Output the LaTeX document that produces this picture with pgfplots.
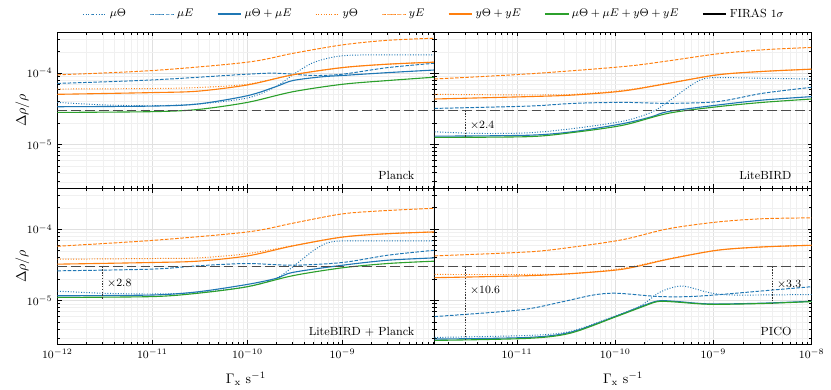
\documentclass[border=0pt]{standalone}
\usepackage{pgfplots}
\pgfplotsset{compat=1.18}
\usepgfplotslibrary{groupplots}
\usetikzlibrary{calc}

\definecolor{tabblue}{HTML}{1F77B4}
\definecolor{taborange}{HTML}{FF7F0E}
\definecolor{tabgreen}{HTML}{2CA02C}

\newcommand{\tfont}{\fontsize{8.5}{10}\selectfont}

\pgfplotsset{
  muT/.style={tabblue, line width=0.7pt, dash pattern=on 0.7pt off 1.2pt, smooth},
  muE/.style={tabblue, line width=0.7pt, dash pattern=on 2.6pt off 1.1pt, smooth},
  muS/.style={tabblue, line width=0.8pt, smooth},
  yT/.style={taborange, line width=0.7pt, dash pattern=on 0.7pt off 1.2pt, smooth},
  yEd/.style={taborange, line width=0.7pt, dash pattern=on 2.6pt off 1.1pt, smooth},
  yS/.style={taborange, line width=0.8pt, smooth},
  allS/.style={tabgreen, line width=0.8pt, smooth},
  firas/.style={black!70, line width=1pt, dash pattern=on 7pt off 3pt},
  annot/.style={black!80, line width=0.5pt, dash pattern=on 1pt off 1pt},
}
\tikzset{
  plab/.style={font=\tfont, anchor=base east, inner sep=0pt},
  alab/.style={font=\tfont, anchor=west, inner sep=1pt, xshift=2pt},
}

\begin{document}
\begin{tikzpicture}
\begin{groupplot}[
  group style={group size=2 by 2, horizontal sep=0pt, vertical sep=0pt,
    xticklabels at=edge bottom, yticklabels at=edge left},
  scale only axis, width=272pt, height=112.6pt,
  xmode=log, ymode=log,
  ymin=2.42e-6, ymax=3.75e-4,
  grid=both,
  major grid style={line width=0.4pt, black!12},
  minor grid style={line width=0.3pt, black!6},
  axis line style={line width=0.8pt},
  tick style={black, line width=0.6pt},
  major tick length=3pt, minor tick length=1.8pt,
  tick label style={font=\tfont},
  every axis y label/.style={at={(axis description cs:-0.093,0.5)}, rotate=90, anchor=center},
  every axis x label/.style={at={(axis description cs:0.5,-0.218)}, anchor=center},
]

% ---- Planck
\nextgroupplot[xmin=1e-12, xmax=9.3e-9, ylabel={$\Delta\rho/\rho$},
  legend columns=8,
  legend style={at={(axis description cs:1,1)}, anchor=center, yshift=13.2pt,
    draw=none, fill=none, font=\tfont,
    /tikz/every even column/.append style={column sep=15pt}},
]
\addplot[muT] coordinates {(1e-12,3.9e-5)(3e-12,3.6e-5)(1e-11,3.5e-5)(3e-11,3.7e-5)(1e-10,4.5e-5)(2e-10,6.5e-5)(3e-10,9.5e-5)(5e-10,1.42e-4)(1e-9,1.76e-4)(3e-9,1.81e-4)(9.3e-9,1.81e-4)};
\addlegendentry{$\mu\Theta$}
\addplot[muE] coordinates {(1e-12,7.2e-5)(1e-11,8.05e-5)(1e-10,9.7e-5)(2e-10,1.0e-4)(5e-10,9.3e-5)(1e-9,9.7e-5)(3e-9,1.2e-4)(9.3e-9,1.38e-4)};
\addlegendentry{$\mu E$}
\addplot[muS] coordinates {(1e-12,3.39e-5)(1e-11,3.46e-5)(3e-11,3.7e-5)(1e-10,4.84e-5)(2e-10,6.5e-5)(3e-10,7.9e-5)(6e-10,8.9e-5)(1e-9,9.3e-5)(3e-9,1.02e-4)(9.3e-9,1.11e-4)};
\addlegendentry{$\mu\Theta + \mu E$}
\addplot[yT] coordinates {(1e-12,6.0e-5)(1e-11,6.1e-5)(3e-11,6.3e-5)(1e-10,7.0e-5)(3e-10,9.5e-5)(1e-9,1.2e-4)(3e-9,1.34e-4)(9.3e-9,1.43e-4)};
\addlegendentry{$y\Theta$}
\addplot[yEd] coordinates {(1e-12,9.5e-5)(1e-11,1.09e-4)(1e-10,1.43e-4)(3e-10,1.9e-4)(1e-9,2.5e-4)(3e-9,2.9e-4)(9.3e-9,3.1e-4)};
\addlegendentry{$yE$}
\addplot[yS] coordinates {(1e-12,5.06e-5)(1e-11,5.35e-5)(3e-11,5.6e-5)(1e-10,6.85e-5)(3e-10,9.5e-5)(1e-9,1.2e-4)(3e-9,1.34e-4)(9.3e-9,1.43e-4)};
\addlegendentry{$y\Theta + yE$}
\addplot[allS] coordinates {(1e-12,2.82e-5)(1e-11,2.89e-5)(3e-11,3.1e-5)(1e-10,3.9e-5)(3e-10,5.5e-5)(1e-9,7.0e-5)(3e-9,7.9e-5)(9.3e-9,8.8e-5)};
\addlegendentry{$\mu\Theta + \mu E + y\Theta + yE$}
\addplot[firas, legend image code/.code={\draw[black, solid, line width=0.8pt] (0cm,0cm) -- (0.6cm,0cm);}] coordinates {(1e-12,3e-5)(9.3e-9,3e-5)};
\addlegendentry{FIRAS $1\sigma$}
\node[plab] at (rel axis cs:0.947,0.058) {Planck};

% ---- LiteBIRD
\nextgroupplot[xmin=1.45e-12, xmax=1e-8]
\addplot[muT] coordinates {(1.45e-12,1.51e-5)(4.17e-12,1.43e-5)(1.32e-11,1.46e-5)(3.8e-11,1.68e-5)(1.21e-10,2.13e-5)(2.34e-10,2.83e-5)(3.46e-10,4.0e-5)(5.65e-10,6.5e-5)(7.8e-10,8.3e-5)(1.1e-9,8.7e-5)(3.16e-9,8.5e-5)(1e-8,8.3e-5)};
\addplot[muE] coordinates {(1.45e-12,3.21e-5)(1.32e-11,3.46e-5)(3.8e-11,3.78e-5)(1.21e-10,3.9e-5)(3.46e-10,3.78e-5)(1.1e-9,4.0e-5)(3.16e-9,5.23e-5)(1e-8,6.35e-5)};
\addplot[muS] coordinates {(1.45e-12,1.31e-5)(1.32e-11,1.35e-5)(3.8e-11,1.52e-5)(1.21e-10,1.97e-5)(2.34e-10,2.45e-5)(3.46e-10,2.9e-5)(1.1e-9,3.58e-5)(3.16e-9,4.2e-5)(1e-8,4.7e-5)};
\addplot[yT] coordinates {(1.45e-12,5.06e-5)(1.32e-11,4.95e-5)(3.8e-11,5.06e-5)(1.21e-10,5.75e-5)(3.46e-10,7.25e-5)(1.1e-9,9.5e-5)(3.16e-9,1.06e-4)(1e-8,1.14e-4)};
\addplot[yEd] coordinates {(1.45e-12,8.3e-5)(1.32e-11,9.8e-5)(1.21e-10,1.24e-4)(3.46e-10,1.49e-4)(1.1e-9,1.87e-4)(3.16e-9,2.13e-4)(1e-8,2.3e-4)};
\addplot[yS] coordinates {(1.45e-12,4.35e-5)(1.32e-11,4.7e-5)(3.8e-11,4.95e-5)(1.21e-10,5.64e-5)(3.46e-10,7.2e-5)(1.1e-9,9.5e-5)(3.16e-9,1.06e-4)(1e-8,1.14e-4)};
\addplot[allS] coordinates {(1.45e-12,1.26e-5)(1.32e-11,1.29e-5)(3.8e-11,1.48e-5)(1.21e-10,1.87e-5)(3.46e-10,2.74e-5)(1.1e-9,3.39e-5)(3.16e-9,3.9e-5)(1e-8,4.35e-5)};
\addplot[annot] coordinates {(3e-12,3e-5)(3e-12,1.25e-5)};
\addplot[firas] coordinates {(1.45e-12,3e-5)(1e-8,3e-5)};
\node[alab] at (axis cs:3e-12,1.87e-5) {$\times2.4$};
\node[plab] at (rel axis cs:0.947,0.058) {LiteBIRD};

% ---- LiteBIRD + Planck
\nextgroupplot[xmin=1e-12, xmax=9.3e-9, ylabel={$\Delta\rho/\rho$}, xlabel={$\Gamma_{\rm x}$ s$^{-1}$}]
\addplot[muT] coordinates {(1e-12,1.36e-5)(3e-12,1.27e-5)(1e-11,1.24e-5)(3e-11,1.3e-5)(1e-10,1.57e-5)(2e-10,2.05e-5)(3e-10,2.98e-5)(5e-10,5.1e-5)(7e-10,6.5e-5)(1e-9,6.88e-5)(3e-9,6.9e-5)(9.3e-9,6.9e-5)};
\addplot[muE] coordinates {(1e-12,2.62e-5)(1e-11,2.77e-5)(3e-11,3.08e-5)(1e-10,3.32e-5)(3e-10,3.14e-5)(1e-9,3.43e-5)(3e-9,4.34e-5)(9.3e-9,5.1e-5)};
\addplot[muS] coordinates {(1e-12,1.17e-5)(1e-11,1.2e-5)(3e-11,1.33e-5)(1e-10,1.69e-5)(2e-10,2.05e-5)(3e-10,2.49e-5)(1e-9,3.14e-5)(3e-9,3.69e-5)(9.3e-9,3.98e-5)};
\addplot[yT] coordinates {(1e-12,3.81e-5)(1e-11,3.9e-5)(3e-11,3.98e-5)(1e-10,4.57e-5)(3e-10,5.9e-5)(1e-9,7.8e-5)(3e-9,8.7e-5)(9.3e-9,9.2e-5)};
\addplot[yEd] coordinates {(1e-12,5.8e-5)(1e-11,7.0e-5)(1e-10,9.2e-5)(3e-10,1.22e-4)(1e-9,1.65e-4)(3e-9,1.84e-4)(9.3e-9,1.98e-4)};
\addplot[yS] coordinates {(1e-12,3.25e-5)(1e-11,3.43e-5)(3e-11,3.58e-5)(1e-10,4.24e-5)(3e-10,5.86e-5)(1e-9,7.8e-5)(3e-9,8.7e-5)(9.3e-9,9.2e-5)};
\addplot[allS] coordinates {(1e-12,1.11e-5)(1e-11,1.14e-5)(3e-11,1.27e-5)(1e-10,1.57e-5)(3e-10,2.24e-5)(1e-9,2.89e-5)(3e-9,3.32e-5)(9.3e-9,3.58e-5)};
\addplot[annot] coordinates {(3e-12,3e-5)(3e-12,1.07e-5)};
\addplot[firas] coordinates {(1e-12,3e-5)(9.3e-9,3e-5)};
\node[alab] at (axis cs:3e-12,1.75e-5) {$\times2.8$};
\node[plab] at (rel axis cs:0.947,0.058) {LiteBIRD + Planck};

% ---- PICO
\nextgroupplot[xmin=1.45e-12, xmax=1e-8, xlabel={$\Gamma_{\rm x}$ s$^{-1}$}]
\addplot[muT] coordinates {(1.45e-12,3.05e-6)(1.3e-11,3.25e-6)(3.5e-11,3.7e-6)(1e-10,6.1e-6)(1.8e-10,8.4e-6)(2.9e-10,1.33e-5)(4.8e-10,1.6e-5)(9.2e-10,1.29e-5)(1.6e-9,1.2e-5)(1e-8,1.22e-5)};
\addplot[muE] coordinates {(1.45e-12,5.98e-6)(1.07e-11,7.4e-6)(2.76e-11,9.5e-6)(6e-11,1.2e-5)(1.04e-10,1.27e-5)(2.9e-10,1.14e-5)(7.3e-10,1.16e-5)(4e-9,1.41e-5)(1e-8,1.57e-5)};
\addplot[muS] coordinates {(1.45e-12,2.89e-6)(1.3e-11,3.05e-6)(3.5e-11,3.6e-6)(1e-10,6.0e-6)(1.8e-10,8.2e-6)(2.7e-10,9.9e-6)(4e-10,9.8e-6)(9e-10,9.0e-6)(3e-9,9.2e-6)(1e-8,9.8e-6)};
\addplot[yT] coordinates {(1.45e-12,2.33e-5)(1.32e-11,2.33e-5)(3.8e-11,2.4e-5)(1.21e-10,2.85e-5)(3.46e-10,3.85e-5)(1.1e-9,5.1e-5)(3.16e-9,5.67e-5)(1e-8,5.98e-5)};
\addplot[yEd] coordinates {(1.45e-12,4.25e-5)(1.32e-11,4.83e-5)(3.8e-11,5.67e-5)(1.21e-10,7.2e-5)(3.46e-10,1.02e-4)(1.1e-9,1.27e-4)(3.16e-9,1.41e-4)(1e-8,1.45e-4)};
\addplot[yS] coordinates {(1.45e-12,2.1e-5)(1.32e-11,2.24e-5)(3.8e-11,2.41e-5)(1.21e-10,2.77e-5)(3.46e-10,3.81e-5)(1.1e-9,5.1e-5)(3.16e-9,5.67e-5)(1e-8,5.98e-5)};
\addplot[allS] coordinates {(1.45e-12,2.77e-6)(1.3e-11,2.96e-6)(3.5e-11,3.5e-6)(1e-10,5.9e-6)(1.8e-10,8.0e-6)(2.7e-10,9.7e-6)(4e-10,9.6e-6)(9e-10,8.9e-6)(3e-9,9.1e-6)(1e-8,9.7e-6)};
\addplot[annot] coordinates {(3e-12,3e-5)(3e-12,2.83e-6)};
\addplot[annot] coordinates {(4e-9,3e-5)(4e-9,9.1e-6)};
\addplot[firas] coordinates {(1.45e-12,3e-5)(1e-8,3e-5)};
\node[alab] at (axis cs:3e-12,1.41e-5) {$\times10.6$};
\node[alab] at (axis cs:4e-9,1.71e-5) {$\times3.3$};
\node[plab] at (rel axis cs:0.947,0.058) {PICO};
\end{groupplot}
\pgfresetboundingbox
\path ($(group c1r1.north west)+(-41.4pt,23.3pt)$) rectangle ($(group c2r2.south east)+(13.9pt,-32.5pt)$);
\end{tikzpicture}
\end{document}
